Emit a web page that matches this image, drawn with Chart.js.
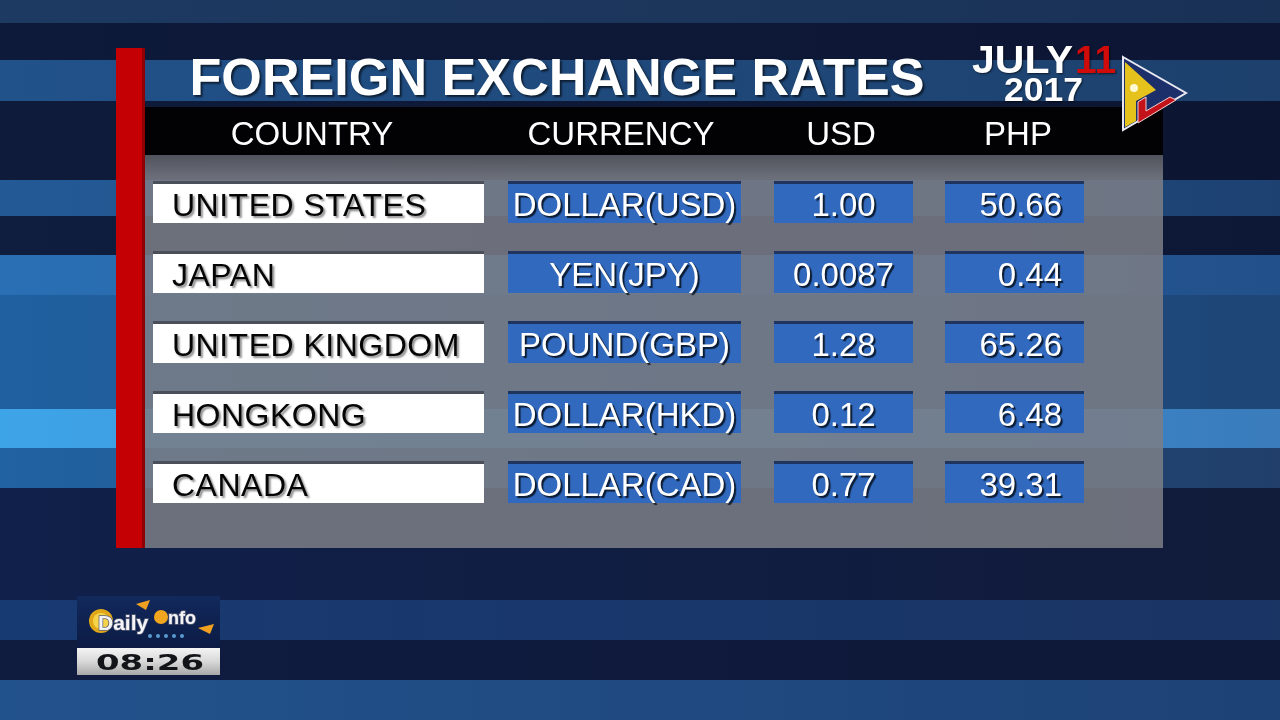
<!DOCTYPE html>
<html>
<head>
<meta charset="utf-8">
<title>Foreign Exchange Rates</title>
<script src="https://cdn.jsdelivr.net/npm/chart.js@4.4.1/dist/chart.umd.min.js"></script>
<style>
  html, body { margin: 0; padding: 0; background: #0d1a38; overflow: hidden; }
  #tabla { display: block; }
</style>
</head>
<body>
<canvas id="tabla" width="1280" height="720"></canvas>
<script>
// === DATOS ===
const titulo = "FOREIGN EXCHANGE RATES";
const fechaMes = "JULY";
const fechaDia = "11";
const fechaAnio = "2017";
const hora = "08:26";
const encabezados = ["COUNTRY", "CURRENCY", "USD", "PHP"];
const paises = ["UNITED STATES", "JAPAN", "UNITED KINGDOM", "HONGKONG", "CANADA"];
const monedas = ["DOLLAR(USD)", "YEN(JPY)", "POUND(GBP)", "DOLLAR(HKD)", "DOLLAR(CAD)"];
const tasaUSD = [1.00, 0.0087, 1.28, 0.12, 0.77];
const tasaPHP = [50.66, 0.44, 65.26, 6.48, 39.31];

// === DISEÑO (posiciones y estilos, no datos) ===
// tramos de cada columna en unidades de la escala x (0..931)
const columnas = [[0, 331], [355, 588], [621, 760], [792, 931]];
const coloresCelda = ["#ffffff", "#3069be", "#3069be", "#3069be"];
const bordeCelda = ["#4a4f5a", "#1f3560", "#1f3560", "#1f3560"];
// franjas del fondo: [y0, y1, color izq, color der]
const franjas = [
  [0, 23, "#1d3a62", "#1a3156"],
  [23, 60, "#0e1a3a", "#0d1634"],
  [60, 101, "#21528a", "#1d406c"],
  [101, 180, "#0e1b3a", "#0c1632"],
  [180, 216, "#235a96", "#1d4272"],
  [216, 255, "#0f1d3e", "#0d1836"],
  [255, 295, "#2a6fb4", "#22508a"],
  [295, 409, "#2060a0", "#1e4676"],
  [409, 448, "#3ea4e8", "#3a7cbc"],
  [448, 488, "#2162a2", "#213f6a"],
  [488, 600, "#10204a", "#111b3a"],
  [600, 640, "#183a72", "#1a3464"],
  [640, 680, "#0f1c40", "#0e1838"],
  [680, 720, "#22528c", "#1d4276"]
];

const fmtTasa = v => (v < 0.01 ? v.toFixed(4) : v.toFixed(2));
const textosColumna = [paises, monedas, tasaUSD.map(fmtTasa), tasaPHP.map(fmtTasa)];

// texto ajustado a un ancho (escala horizontal)
function textoAjustado(ctx, txt, x, y, ancho, align) {
  const w = ctx.measureText(txt).width;
  const s = ancho / w;
  ctx.save();
  ctx.translate(x, y);
  ctx.scale(s, 1);
  ctx.textAlign = align || "center";
  ctx.fillText(txt, 0, 0);
  ctx.restore();
}

// === FONDO Y PANEL ===
const fondoPlugin = {
  id: "fondo",
  beforeDraw(chart) {
    const ctx = chart.ctx;
    const W = chart.width;
    ctx.save();
    franjas.forEach(([y0, y1, c0, c1]) => {
      const g = ctx.createLinearGradient(0, 0, W, 0);
      g.addColorStop(0, c0);
      g.addColorStop(1, c1);
      ctx.fillStyle = g;
      ctx.fillRect(0, y0, W, y1 - y0);
    });

    // panel gris semitransparente
    ctx.fillStyle = "rgba(124, 126, 134, 0.86)";
    ctx.fillRect(145, 155, 1018, 393);
    const sombra = ctx.createLinearGradient(0, 155, 0, 178);
    sombra.addColorStop(0, "rgba(0,0,0,0.25)");
    sombra.addColorStop(1, "rgba(0,0,0,0)");
    ctx.fillStyle = sombra;
    ctx.fillRect(145, 155, 1018, 23);

    // barra de encabezado negra
    ctx.fillStyle = "#020204";
    ctx.fillRect(145, 107, 1018, 48);

    // barra roja vertical
    ctx.fillStyle = "#c40004";
    ctx.fillRect(116, 48, 29, 500);
    ctx.fillStyle = "#8e0003";
    ctx.fillRect(142, 48, 3, 500);
    ctx.restore();
  },
  afterDatasetsDraw(chart) {
    const ctx = chart.ctx;
    ctx.save();
    ctx.textBaseline = "alphabetic";

    // título
    ctx.font = "bold 52px 'Liberation Sans', Arial, sans-serif";
    ctx.fillStyle = "#ffffff";
    ctx.shadowColor = "rgba(0,0,0,0.6)";
    ctx.shadowOffsetX = 2;
    ctx.shadowOffsetY = 2;
    ctx.shadowBlur = 2;
    textoAjustado(ctx, titulo, 557, 95, 735);

    // encabezados
    ctx.shadowColor = "transparent";
    ctx.font = "33px 'Liberation Sans', Arial, sans-serif";
    ctx.fillStyle = "#ffffff";
    ctx.textAlign = "center";
    const centrosEnc = [312, 621, 841, 1018];
    encabezados.forEach((h, i) => ctx.fillText(h, centrosEnc[i], 145));

    // textos de celdas
    textosColumna.forEach((col, i) => {
      const meta = chart.getDatasetMeta(i);
      meta.data.forEach((el, j) => {
        const p = el.getProps(["x", "base", "y"], true);
        const izq = Math.min(p.x, p.base);
        const der = Math.max(p.x, p.base);
        const yb = p.y + 14;
        if (i === 0) {
          ctx.font = "32px 'Liberation Sans', Arial, sans-serif";
          ctx.letterSpacing = "0.5px";
          ctx.fillStyle = "#050505";
          ctx.shadowColor = "rgba(0,0,0,0.45)";
          ctx.shadowOffsetX = 2;
          ctx.shadowOffsetY = 2;
          ctx.shadowBlur = 2;
          ctx.textAlign = "left";
          ctx.fillText(col[j], izq + 19, yb);
        } else {
          ctx.font = "33px 'Liberation Sans', Arial, sans-serif";
          ctx.letterSpacing = "0px";
          ctx.fillStyle = "#ffffff";
          ctx.shadowColor = "rgba(0,0,0,0.75)";
          ctx.shadowOffsetX = 2;
          ctx.shadowOffsetY = 2;
          ctx.shadowBlur = 1;
          if (i === 3) {
            ctx.textAlign = "right";
            ctx.fillText(col[j], der - 22, yb);
          } else {
            ctx.textAlign = "center";
            ctx.fillText(col[j], (izq + der) / 2, yb);
          }
        }
      });
    });
    ctx.letterSpacing = "0px";

    // fecha
    ctx.shadowColor = "rgba(0,0,0,0.6)";
    ctx.shadowOffsetX = 1;
    ctx.shadowOffsetY = 1;
    ctx.shadowBlur = 2;
    ctx.textAlign = "left";
    ctx.font = "bold 39px 'Liberation Sans', Arial, sans-serif";
    ctx.fillStyle = "#ffffff";
    ctx.save();
    ctx.translate(972, 73);
    ctx.scale(101 / ctx.measureText(fechaMes).width, 1);
    ctx.fillText(fechaMes, 0, 0);
    ctx.restore();
    ctx.fillStyle = "#d10a0a";
    ctx.fillText(fechaDia, 1075, 73);
    ctx.fillStyle = "#ffffff";
    ctx.font = "bold 34px 'Liberation Sans', Arial, sans-serif";
    ctx.save();
    ctx.translate(1004, 101);
    ctx.scale(79 / ctx.measureText(fechaAnio).width, 1);
    ctx.fillText(fechaAnio, 0, 0);
    ctx.restore();
    ctx.shadowColor = "transparent";

    // logo triangular
    ctx.beginPath();
    ctx.moveTo(1123, 57);
    ctx.lineTo(1186, 93);
    ctx.lineTo(1123, 130);
    ctx.closePath();
    ctx.fillStyle = "#1c2f6a";
    ctx.fill();
    ctx.strokeStyle = "#e8e8f0";
    ctx.lineWidth = 2;
    ctx.stroke();
    ctx.beginPath();
    ctx.moveTo(1125, 62);
    ctx.lineTo(1156, 90);
    ctx.lineTo(1136, 101);
    ctx.lineTo(1136, 121);
    ctx.lineTo(1125, 127);
    ctx.closePath();
    ctx.fillStyle = "#e6c21c";
    ctx.fill();
    ctx.beginPath();
    ctx.moveTo(1138, 102);
    ctx.lineTo(1146, 97);
    ctx.lineTo(1146, 111);
    ctx.lineTo(1170, 97);
    ctx.lineTo(1176, 100);
    ctx.lineTo(1138, 123);
    ctx.closePath();
    ctx.fillStyle = "#c4121a";
    ctx.fill();
    ctx.strokeStyle = "#f0d0d0";
    ctx.lineWidth = 1;
    ctx.stroke();
    ctx.beginPath();
    ctx.arc(1134, 88, 4, 0, Math.PI * 2);
    ctx.fillStyle = "#fff8d0";
    ctx.fill();

    // caja DailyInfo
    const gCaja = ctx.createLinearGradient(0, 596, 0, 648);
    gCaja.addColorStop(0, "#12295c");
    gCaja.addColorStop(1, "#0b1b44");
    ctx.fillStyle = gCaja;
    ctx.fillRect(77, 596, 143, 52);
    ctx.beginPath();
    ctx.arc(101, 621, 12, 0, Math.PI * 2);
    ctx.fillStyle = "#e0a818";
    ctx.fill();
    ctx.beginPath();
    ctx.arc(101, 621, 8, 0, Math.PI * 2);
    ctx.fillStyle = "#f6d44a";
    ctx.fill();
    ctx.beginPath();
    ctx.moveTo(136, 604); ctx.lineTo(150, 600); ctx.lineTo(146, 610); ctx.closePath();
    ctx.fillStyle = "#f0a020";
    ctx.fill();
    ctx.beginPath();
    ctx.moveTo(198, 628); ctx.lineTo(214, 624); ctx.lineTo(210, 634); ctx.closePath();
    ctx.fill();
    ctx.font = "bold 21px 'Liberation Sans', Arial, sans-serif";
    ctx.fillStyle = "#f4f4f8";
    ctx.strokeStyle = "#5a6078";
    ctx.lineWidth = 1.5;
    ctx.textAlign = "left";
    ctx.strokeText("Daily", 98, 630);
    ctx.fillText("Daily", 98, 630);
    ctx.beginPath();
    ctx.arc(161, 617, 7, 0, Math.PI * 2);
    ctx.fillStyle = "#f2a51e";
    ctx.fill();
    ctx.font = "bold 18px 'Liberation Sans', Arial, sans-serif";
    ctx.fillStyle = "#f4f4f8";
    ctx.strokeText("nfo", 168, 624);
    ctx.fillText("nfo", 168, 624);
    ctx.fillStyle = "#5a9ad0";
    for (let k = 0; k < 5; k++) {
      ctx.beginPath();
      ctx.arc(150 + k * 8, 636, 2, 0, Math.PI * 2);
      ctx.fill();
    }

    // caja de hora
    const gHora = ctx.createLinearGradient(0, 648, 0, 675);
    gHora.addColorStop(0, "#f4f4f4");
    gHora.addColorStop(0.5, "#d8d8d8");
    gHora.addColorStop(1, "#a8a8a8");
    ctx.fillStyle = gHora;
    ctx.fillRect(77, 648, 143, 27);
    ctx.font = "bold 22px 'DejaVu Sans', sans-serif";
    ctx.fillStyle = "#121418";
    textoAjustado(ctx, hora, 150, 670, 108);

    ctx.restore();
  }
};

// === TABLA (barras flotantes como celdas) ===
const ctx = document.getElementById("tabla").getContext("2d");

const datasets = columnas.map((tramo, i) => ({
  label: encabezados[i],
  data: paises.map(() => tramo),
  backgroundColor: coloresCelda[i],
  borderColor: bordeCelda[i],
  borderWidth: { top: 3, right: 0, bottom: 0, left: 0 },
  borderSkipped: false,
  grouped: false,
  barPercentage: 0.6,
  categoryPercentage: 1
}));

new Chart(ctx, {
  type: "bar",
  data: { labels: paises, datasets },
  options: {
    indexAxis: "y",
    responsive: false,
    animation: false,
    devicePixelRatio: 1,
    events: [],
    layout: { padding: { left: 153, right: 196, top: 167, bottom: 203 } },
    scales: {
      x: { type: "linear", min: 0, max: 931, display: false },
      y: { type: "category", display: false, offset: true }
    },
    plugins: {
      legend: { display: false },
      tooltip: { enabled: false }
    }
  },
  plugins: [fondoPlugin]
});
</script>
</body>
</html>
